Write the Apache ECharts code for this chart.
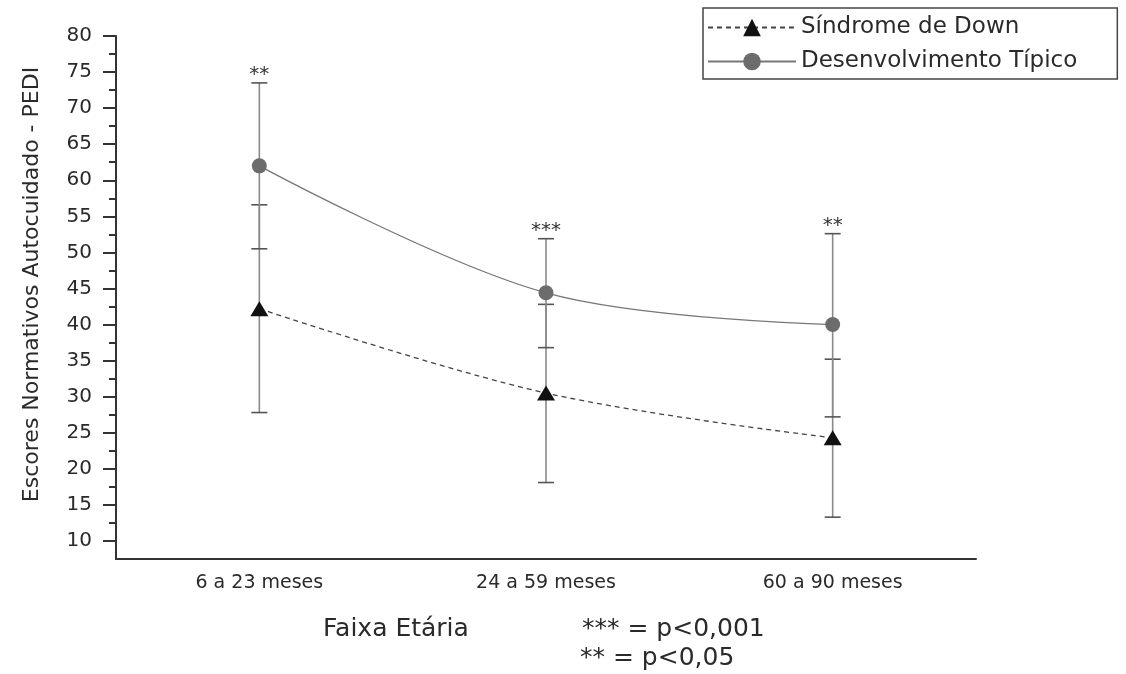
<!DOCTYPE html>
<html>
<head>
<meta charset="utf-8">
<script src="https://cdn.jsdelivr.net/npm/echarts@6/dist/echarts.min.js"></script>
<style>
html,body{margin:0;padding:0;background:#fff;}
#chart{width:1126px;height:674px;}
</style>
</head>
<body>
<div id="chart"></div>
<script>
// ---- data ----
const categories = ['6 a 23 meses', '24 a 59 meses', '60 a 90 meses'];
const seriesNames = ['Síndrome de Down', 'Desenvolvimento Típico'];
const downMean = [42.2, 30.5, 24.3];
const downLow = [27.8, 18.1, 13.3];
const downHigh = [56.6, 42.8, 35.2];
const typicalMean = [62.0, 44.4, 40.0];
const typicalLow = [50.5, 36.8, 27.2];
const typicalHigh = [73.5, 51.9, 52.6];
const sigLabels = ['**', '***', '**'];
const yTickValues = [10, 15, 20, 25, 30, 35, 40, 45, 50, 55, 60, 65, 70, 75, 80];
const yMinorTickValues = [12.5, 17.5, 22.5, 27.5, 32.5, 37.5, 42.5, 47.5, 52.5, 57.5, 62.5, 67.5, 72.5, 77.5];
const yMin = 7.5, yMax = 80;
const yAxisTitle = 'Escores Normativos Autocuidado - PEDI';
const xAxisTitle = 'Faixa Etária';
const noteLines = ['*** = p<0,001', '** = p<0,05'];

const FONT = 'DejaVu Sans';
const TXT = '#2a2a2a';

function errData(low, high) {
  return categories.map((c, i) => [i, low[i], high[i]]);
}

function errRender(withSig) {
  return function (params, api) {
    const i = api.value(0);
    const lo = api.coord([i, api.value(1)]);
    const hi = api.coord([i, api.value(2)]);
    const x = lo[0];
    const cap = 8;
    const style = { stroke: '#8a8a8a', lineWidth: 1.6 };
    const children = [
      { type: 'line', shape: { x1: x, y1: lo[1], x2: x, y2: hi[1] }, style: style },
      { type: 'line', shape: { x1: x - cap, y1: lo[1], x2: x + cap, y2: lo[1] }, style: { stroke: '#555', lineWidth: 1.6 } },
      { type: 'line', shape: { x1: x - cap, y1: hi[1], x2: x + cap, y2: hi[1] }, style: { stroke: '#555', lineWidth: 1.6 } }
    ];
    if (withSig) {
      const top = Math.max(typicalHigh[i], downHigh[i]);
      const p = api.coord([i, top]);
      children.push({
        type: 'text',
        style: {
          text: sigLabels[i], x: x, y: p[1] - 8,
          textAlign: 'center', textVerticalAlign: 'middle',
          font: '20px "' + FONT + '"', fill: '#333'
        }
      });
    }
    return { type: 'group', children: children };
  };
}

const chart = echarts.init(document.getElementById('chart'), null, { renderer: 'canvas' });
chart.setOption({
  backgroundColor: '#fff',
  animation: false,
  textStyle: { fontFamily: FONT },
  grid: { left: 116, right: 150, top: 36, bottom: 115 },
  legend: {
    data: seriesNames,
    orient: 'vertical',
    left: 703, top: 8,
    padding: [8, 40, 6, 4],
    itemWidth: 88, itemHeight: 22, itemGap: 11,
    borderColor: '#444', borderWidth: 1.5,
    textStyle: { fontFamily: FONT, fontSize: 23, color: TXT }
  },
  xAxis: {
    type: 'category',
    data: categories,
    boundaryGap: true,
    axisLine: { lineStyle: { color: '#333', width: 2 } },
    axisTick: { alignWithLabel: true, length: 7, lineStyle: { color: '#333', width: 2 } },
    axisLabel: { fontFamily: FONT, fontSize: 19, color: TXT, margin: 15 },
    splitLine: { show: false }
  },
  yAxis: [
    {
      type: 'value', min: yMin, max: yMax,
      name: yAxisTitle, nameLocation: 'middle', nameGap: 73, nameRotate: 90,
      nameTextStyle: { fontFamily: FONT, fontSize: 22, color: TXT, padding: [0, 0, 0, 26] },
      axisLine: { show: true, lineStyle: { color: '#333', width: 2 } },
      axisTick: { show: true, customValues: yTickValues, length: 13, lineStyle: { color: '#333', width: 2 } },
      axisLabel: { customValues: yTickValues, fontFamily: FONT, fontSize: 20, color: TXT, margin: 24 },
      splitLine: { show: false }
    },
    {
      type: 'value', min: yMin, max: yMax, position: 'left',
      axisLine: { show: false },
      axisTick: { show: true, customValues: yMinorTickValues, length: 7, lineStyle: { color: '#333', width: 2 } },
      axisLabel: { show: false },
      splitLine: { show: false }
    }
  ],
  series: [
    {
      name: 'errDown', type: 'custom', z: 1,
      renderItem: errRender(false),
      encode: { x: 0, y: [1, 2] },
      data: errData(downLow, downHigh),
      silent: true
    },
    {
      name: 'errTyp', type: 'custom', z: 1,
      renderItem: errRender(true),
      encode: { x: 0, y: [1, 2] },
      data: errData(typicalLow, typicalHigh),
      silent: true
    },
    {
      name: seriesNames[0], type: 'line', z: 3,
      data: downMean,
      smooth: 0.35,
      symbol: 'triangle', symbolSize: [18, 15],
      itemStyle: { color: '#111' },
      lineStyle: { color: '#444', width: 1.3, type: [5, 4] }
    },
    {
      name: seriesNames[1], type: 'line', z: 3,
      data: typicalMean,
      smooth: 0.35,
      symbol: 'circle', symbolSize: 15,
      itemStyle: { color: '#6c6c6c' },
      lineStyle: { color: '#777', width: 1.3 }
    }
  ],
  graphic: [
    { type: 'text', left: 323, top: 617, style: { text: xAxisTitle, font: '25px "' + FONT + '"', fill: TXT } },
    { type: 'text', left: 582, top: 617, style: { text: noteLines[0], font: '25px "' + FONT + '"', fill: TXT } },
    { type: 'text', left: 580, top: 646, style: { text: noteLines[1], font: '25px "' + FONT + '"', fill: TXT } }
  ]
});
</script>
</body>
</html>
